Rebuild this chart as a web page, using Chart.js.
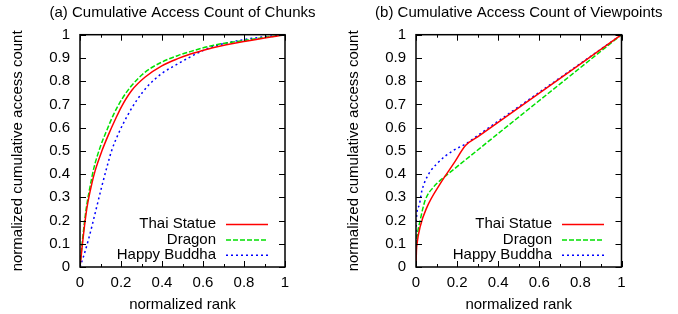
<!DOCTYPE html>
<html>
<head>
<meta charset="utf-8">
<script src="https://cdn.jsdelivr.net/npm/chart.js@4.4.0/dist/chart.umd.min.js"></script>
<style>
  body { margin: 0; background: #fff; }
  canvas { position: absolute; top: 0; }
  #chartA { left: 0; }
  #chartB { left: 336px; }
</style>
</head>
<body>
<canvas id="chartA" width="339" height="314"></canvas>
<canvas id="chartB" width="342" height="314"></canvas>
<script>
// tick values + labels (gnuplot style: minor x ticks unlabeled)
const xTicks = [0, 0.1, 0.2, 0.3, 0.4, 0.5, 0.6, 0.7, 0.8, 0.9, 1];
const xTickLabels = ['0', '', '0.2', '', '0.4', '', '0.6', '', '0.8', '', '1'];
const yTicks = [0, 0.1, 0.2, 0.3, 0.4, 0.5, 0.6, 0.7, 0.8, 0.9, 1];
const yTickLabels = ['0', '0.1', '0.2', '0.3', '0.4', '0.5', '0.6', '0.7', '0.8', '0.9', '1'];

const seriesNames = ['Thai Statue', 'Dragon', 'Happy Buddha'];

// (a) chunks
const rankA_thai = [0, 0.006, 0.017, 0.033, 0.058, 0.074, 0.107, 0.139, 0.172, 0.204, 0.253, 0.318, 0.399, 0.48, 0.529, 0.59, 0.653, 0.815, 1];
const accA_thai = [0, 0.05, 0.14, 0.25, 0.36, 0.415, 0.5, 0.57, 0.635, 0.693, 0.761, 0.818, 0.866, 0.898, 0.914, 0.93, 0.945, 0.973, 1];
const rankA_dragon = [0, 0.005, 0.015, 0.03, 0.05, 0.066, 0.098, 0.131, 0.163, 0.204, 0.253, 0.318, 0.399, 0.48, 0.529, 0.653, 0.815, 1];
const accA_dragon = [0, 0.05, 0.14, 0.25, 0.35, 0.42, 0.515, 0.589, 0.655, 0.722, 0.782, 0.839, 0.882, 0.911, 0.925, 0.955, 0.977, 1];
const rankA_buddha = [0, 0.017, 0.041, 0.074, 0.106, 0.139, 0.155, 0.188, 0.228, 0.277, 0.334, 0.399, 0.48, 0.529, 0.571, 0.653, 0.815, 1];
const accA_buddha = [0, 0.045, 0.117, 0.232, 0.346, 0.455, 0.503, 0.575, 0.646, 0.718, 0.782, 0.833, 0.876, 0.9, 0.92, 0.95, 0.981, 1];

// (b) viewpoints
const rankB_thai = [0, 0.002, 0.005, 0.02, 0.054, 0.118, 0.183, 0.242, 0.3, 1];
const accB_thai = [0, 0.07, 0.1, 0.173, 0.259, 0.359, 0.445, 0.524, 0.56, 1];
const rankB_dragon = [0, 0.002, 0.005, 0.02, 0.045, 0.086, 0.118, 0.2, 1];
const accB_dragon = [0, 0.1, 0.13, 0.2, 0.288, 0.345, 0.373, 0.432, 1];
const rankB_buddha = [0, 0.0005, 0.001, 0.013, 0.029, 0.054, 0.102, 0.183, 0.242, 0.3, 1];
const accB_buddha = [0, 0.12, 0.19, 0.26, 0.33, 0.388, 0.445, 0.502, 0.53, 0.566, 1];

const FONT = 'Liberation Sans, Arial, Helvetica, sans-serif';
const styles = [
  { color: '#ff0000', dash: [] },
  { color: '#00e000', dash: [5, 2] },
  { color: '#0000ff', dash: [2, 3] }
];

// title, inward ticks, border box and gnuplot-like key
const gnuFrame = {
  id: 'gnuFrame',
  afterDatasetsDraw(chart, args, opts) {
    const { ctx, chartArea: a, scales: { x, y } } = chart;
    ctx.save();
    ctx.strokeStyle = '#000';
    ctx.lineWidth = 1;
    ctx.setLineDash([]);
    ctx.beginPath();
    xTicks.forEach((v, i) => {
      const px = Math.round(x.getPixelForValue(v)) + 0.5;
      const len = xTickLabels[i] ? 6 : 3;
      ctx.moveTo(px, a.bottom); ctx.lineTo(px, a.bottom - len);
      ctx.moveTo(px, a.top); ctx.lineTo(px, a.top + len);
    });
    yTicks.forEach(v => {
      const py = Math.round(y.getPixelForValue(v)) + 0.5;
      ctx.moveTo(a.left, py); ctx.lineTo(a.left + 6, py);
      ctx.moveTo(a.right, py); ctx.lineTo(a.right - 6, py);
    });
    ctx.stroke();
    ctx.lineWidth = 1.5;
    ctx.strokeRect(a.left, a.top, a.right - a.left, a.bottom - a.top);

    ctx.font = '15px ' + FONT;
    ctx.fillStyle = '#000';
    ctx.textBaseline = 'middle';
    ctx.textAlign = 'center';
    ctx.fillText(opts.text, (a.left + a.right) / 2, 13);

    // key
    ctx.textAlign = 'right';
    chart.data.datasets.forEach((ds, i) => {
      const ry = a.bottom - 43 + i * 15.4;
      ctx.fillText(ds.label, a.left + 136, ry);
      ctx.beginPath();
      ctx.strokeStyle = ds.borderColor;
      ctx.lineWidth = 1.5;
      ctx.setLineDash(ds.borderDash);
      ctx.moveTo(a.left + 146, ry + 0.5);
      ctx.lineTo(a.left + 188, ry + 0.5);
      ctx.stroke();
    });
    ctx.restore();
  }
};

function buildChart(id, titleText, xs, ys, padRight) {
  const datasets = seriesNames.map((name, i) => ({
    label: name,
    data: xs[i].map((v, j) => ({ x: v, y: ys[i][j] })),
    borderColor: styles[i].color,
    borderDash: styles[i].dash,
    borderWidth: 1.5,
    pointRadius: 0,
    fill: false,
    cubicInterpolationMode: 'monotone'
  }));
  const tickFont = { family: FONT, size: 15 };
  return new Chart(document.getElementById(id), {
    type: 'line',
    data: { datasets },
    options: {
      responsive: false,
      animation: false,
      layout: { padding: { left: 0, right: padRight, top: 34.7, bottom: 0 } },
      plugins: {
        legend: { display: false },
        tooltip: { enabled: false },
        title: { display: false },
        gnuFrame: { text: titleText }
      },
      scales: {
        x: {
          type: 'linear', min: 0, max: 1,
          afterBuildTicks: s => { s.ticks = xTicks.map(v => ({ value: v })); },
          ticks: { callback: (v, i) => xTickLabels[i], autoSkip: false, maxRotation: 0, padding: 7, color: '#000', font: tickFont },
          grid: { display: false, drawTicks: false },
          border: { display: false },
          title: { display: true, text: 'normalized rank', color: '#000', font: tickFont, padding: { top: 0, bottom: 0 } },
          afterFit: s => { s.height = 47; }
        },
        y: {
          type: 'linear', min: 0, max: 1,
          afterBuildTicks: s => { s.ticks = yTicks.map(v => ({ value: v })); },
          ticks: { callback: (v, i) => yTickLabels[i], autoSkip: false, padding: 10, color: '#000', font: tickFont },
          grid: { display: false, drawTicks: false },
          border: { display: false },
          title: { display: true, text: 'normalized cumulative access count', color: '#000', font: tickFont, padding: { top: 9, bottom: 0 } },
          afterFit: s => { s.width = 80; }
        }
      }
    },
    plugins: [gnuFrame]
  });
}

buildChart('chartA', '(a) Cumulative Access Count of Chunks',
  [rankA_thai, rankA_dragon, rankA_buddha], [accA_thai, accA_dragon, accA_buddha], 54);
buildChart('chartB', '(b) Cumulative Access Count of Viewpoints',
  [rankB_thai, rankB_dragon, rankB_buddha], [accB_thai, accB_dragon, accB_buddha], 56.5);
</script>
</body>
</html>
